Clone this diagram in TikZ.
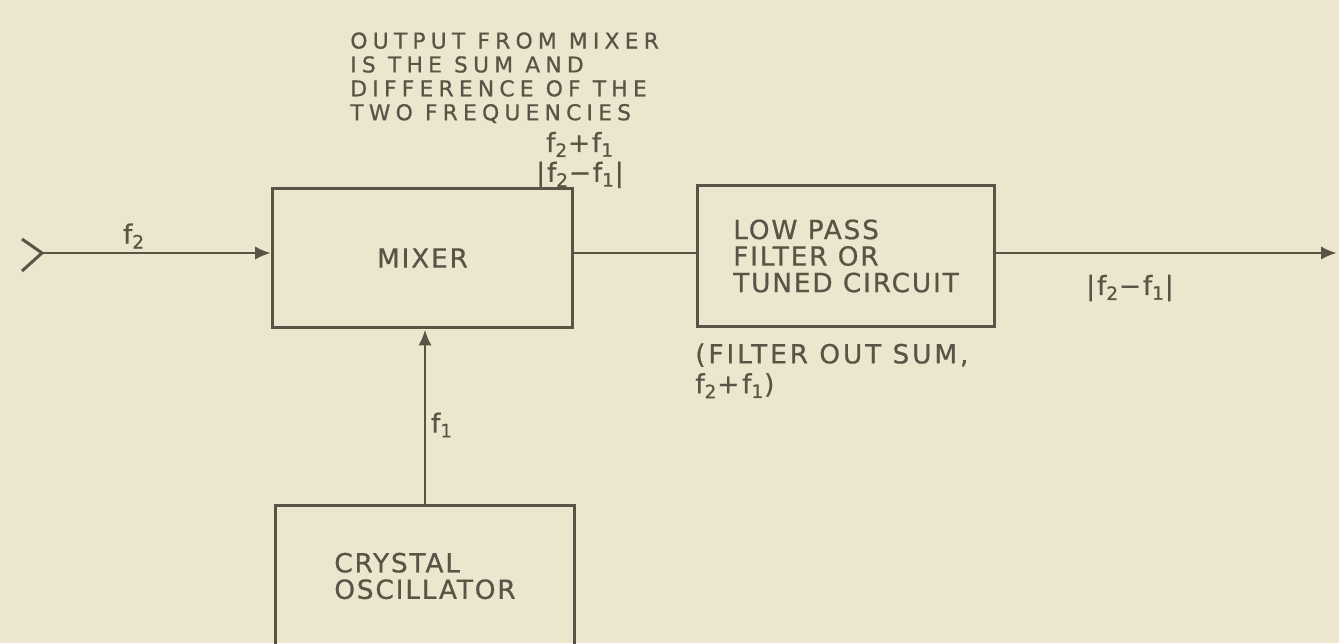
\documentclass[tikz,border=0pt]{standalone}
\usepackage{fontspec}
\usetikzlibrary{arrows.meta}
\newfontfamily\boxfont{DejaVu Sans}[LetterSpace=7,FakeBold=0.7]
\newfontfamily\sumfont{DejaVu Sans}[LetterSpace=11,FakeBold=0.7]
\newfontfamily\notefont{DejaVu Sans}[LetterSpace=24,FakeBold=0.7]
\definecolor{paper}{RGB}{237,230,207}
\definecolor{ink}{RGB}{88,84,70}
\newcommand{\fq}[1]{f\textsubscript{#1}}
\begin{document}
\begin{tikzpicture}[x=0.02cm,y=-0.02cm,
		block/.style={draw=ink,line width=1.7pt,inner sep=0pt,text=ink,align=left,
			font=\boxfont\fontsize{15}{15.1}\selectfont},
		wire/.style={draw=ink,line width=1.7pt},
		sig/.style={wire,-{Latex[length=3.2mm,width=2.7mm]}},
		lbl/.style={text=ink,inner sep=0pt,align=center,font=\boxfont\fontsize{15}{17}\selectfont},
		note/.style={text=ink,inner sep=0pt,align=left,font=\notefont\fontsize{12.4}{13.6}\selectfont}]
			\useasboundingbox (0,0) rectangle (1339,643);
			\fill[paper] (0,0) rectangle (1339,643);
			\clip (0,0) rectangle (1339,643);
			
			% blocks
			\node[block,minimum width=6cm,minimum height=2.8cm] (mixer) at (422.5,258) {MIXER};
			\node[block,minimum width=5.96cm,minimum height=2.84cm] (filter) at (846,256)
			{LOW PASS\\FILTER OR\\TUNED CIRCUIT};
			\node[block,minimum width=5.98cm,minimum height=2.84cm] (xtal) at (425,576)
			{CRYSTAL\\OSCILLATOR};
			
			% signal path
			\coordinate (in) at (42,253);
			\coordinate (out) at (1337,253);
			\draw[wire] (in) +(-20,-14) -- (in) -- +(-20,18);
			\draw[sig] (in) -- (in -| mixer.west);
			\draw[wire] (in -| mixer.east) -- (in -| filter.west);
			\draw[sig] (in -| filter.east) -- (out);
			\draw[sig] (xtal.north) -- (xtal.north |- mixer.south);
			
			% labels
			\node[lbl] (ftwo) at (134,236) {\fq{2}};
			\node[lbl] (fone) at (442,425) {\fq{1}};
			\node[lbl] (mixout) at (580,160) {\fq{2}+\fq{1}\\|\fq{2}−\fq{1}|};
			\node[lbl] (diff) at (1130,288) {|\fq{2}−\fq{1}|};
			\node[note,anchor=north west] (mixnote) at (350,32)
			{OUTPUT FROM MIXER\\IS THE SUM AND\\DIFFERENCE OF THE\\TWO FREQUENCIES};
			\node[lbl,align=left,anchor=north west,font=\sumfont\fontsize{15}{17}\selectfont] (filtnote) at (695,343)
			{(FILTER OUT SUM,\\\fq{2}+\fq{1})};
		\end{tikzpicture}
\end{document}
